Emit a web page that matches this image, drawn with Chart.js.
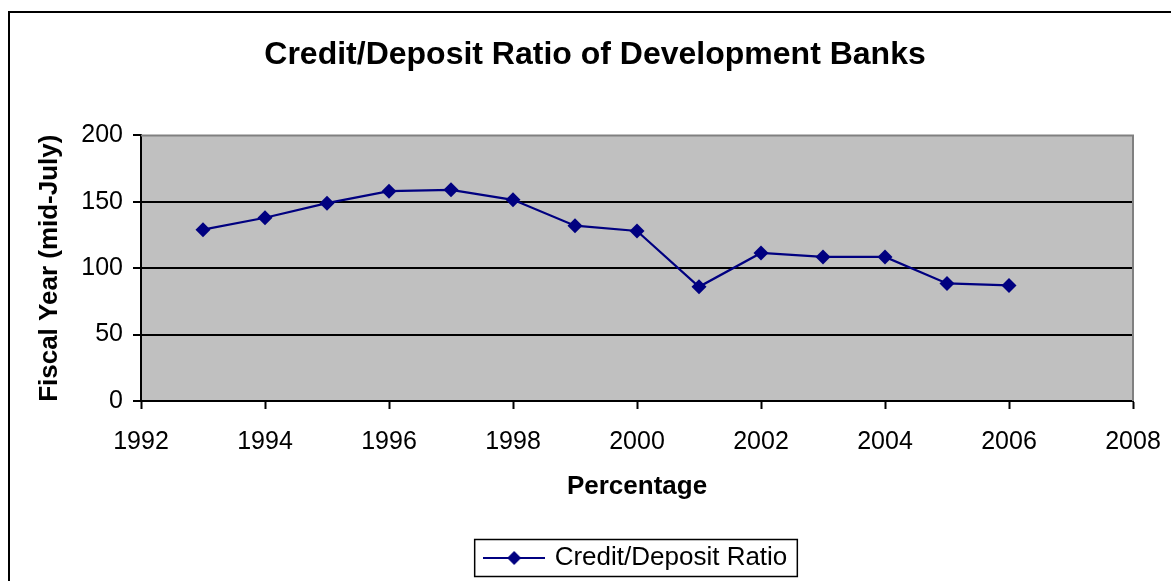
<!DOCTYPE html>
<html lang="en">
<head>
    <meta charset="UTF-8">
    <title>Credit/Deposit Ratio of Development Banks</title>
    <script src="https://cdn.jsdelivr.net/npm/chart.js"></script>
    <style>
        html, body { margin: 0; padding: 0; background: #fff; }
        #chart { display: block; }
    </style>
</head>
<body>
    <canvas id="chart" width="1171" height="581"></canvas>

    <script>
        const years = [1993, 1994, 1995, 1996, 1997, 1998, 1999, 2000, 2001, 2002, 2003, 2004, 2005, 2006];
        const ratio = [129, 138, 149, 158, 159, 151.5, 132, 128, 86, 111.5, 108.5, 108.5, 88.5, 87];
        const xTicks = [1992, 1994, 1996, 1998, 2000, 2002, 2004, 2006, 2008];
        const yTicks = [0, 50, 100, 150, 200];

        const FONT = "'Liberation Sans', Arial, sans-serif";
        const NAVY = '#000080';

        // legend symbol: line with a diamond in the middle
        const legendIcon = document.createElement('canvas');
        legendIcon.width = 62;
        legendIcon.height = 16;
        (function () {
            const c = legendIcon.getContext('2d');
            c.strokeStyle = NAVY;
            c.lineWidth = 2;
            c.beginPath();
            c.moveTo(0, 8);
            c.lineTo(62, 8);
            c.stroke();
            c.fillStyle = NAVY;
            c.beginPath();
            c.moveTo(31 - 7, 8);
            c.lineTo(31, 1);
            c.lineTo(31 + 7, 8);
            c.lineTo(31, 15);
            c.closePath();
            c.fill();
        })();

        const framePlugin = {
            id: 'frame',
            afterLayout(chart) {
                // title centred on the whole frame, legend centred under the plot
                const t = chart.titleBlock;
                t.left = 8; t.right = 1182; t.width = t.right - t.left;
                const lg = chart.legend;
                lg.left = chart.chartArea.left; lg.right = chart.chartArea.right;
                lg.width = lg.right - lg.left;
            },
            beforeDraw(chart) {
                const {ctx, chartArea: a} = chart;
                ctx.save();
                ctx.fillStyle = '#fff';
                ctx.fillRect(0, 0, chart.width, chart.height);
                ctx.fillStyle = '#C0C0C0';
                ctx.fillRect(a.left, a.top, a.right - a.left, a.bottom - a.top);
                ctx.restore();
            },
            beforeDatasetsDraw(chart) {
                const {ctx, chartArea: a} = chart;
                ctx.save();
                ctx.strokeStyle = '#808080';
                ctx.lineWidth = 2;
                ctx.beginPath();
                ctx.moveTo(a.left, a.top);
                ctx.lineTo(a.right, a.top);
                ctx.lineTo(a.right, a.bottom);
                ctx.stroke();
                ctx.restore();
            },
            afterDraw(chart) {
                const ctx = chart.ctx;
                ctx.save();
                ctx.strokeStyle = '#000';
                ctx.lineWidth = 2;
                ctx.strokeRect(9, 12, chart.width + 10, chart.height + 10);
                const hb = chart.legend.legendHitBoxes[0];
                if (hb) {
                    ctx.lineWidth = 1.5;
                    const cy = hb.top + hb.height / 2;
                    ctx.strokeRect(hb.left - 12, cy - 18.5, hb.width + 22, 37);
                }
                ctx.restore();
            }
        };

        new Chart(document.getElementById('chart'), {
            type: 'line',
            data: {
                datasets: [{
                    label: 'Credit/Deposit Ratio',
                    data: years.map((y, i) => ({x: y, y: ratio[i]})),
                    borderColor: NAVY,
                    backgroundColor: NAVY,
                    borderWidth: 2.2,
                    pointStyle: 'rectRot',
                    pointRadius: 7.5,
                    pointBorderWidth: 0,
                    tension: 0
                }]
            },
            options: {
                responsive: false,
                animation: false,
                layout: { padding: { left: 10, right: 38, top: 0, bottom: 0 } },
                plugins: {
                    title: {
                        display: true,
                        text: 'Credit/Deposit Ratio of Development Banks',
                        color: '#000',
                        font: { family: FONT, size: 32, weight: 'bold' },
                        padding: { top: 36, bottom: 61 }
                    },
                    legend: {
                        position: 'bottom',
                        labels: {
                            usePointStyle: true,
                            pointStyle: legendIcon,
                            pointStyleWidth: 55,
                            color: '#000',
                            font: { family: FONT, size: 26 },
                            padding: 8
                        }
                    },
                    tooltip: { enabled: false }
                },
                scales: {
                    x: {
                        type: 'linear',
                        min: 1992,
                        max: 2008,
                        afterBuildTicks: s => { s.ticks = xTicks.map(v => ({value: v})); },
                        afterFit: s => { s.height = 136; s.paddingLeft = 0; s.paddingRight = 0; },
                        ticks: {
                            color: '#000',
                            font: { family: FONT, size: 25 },
                            padding: 18,
                            maxRotation: 0,
                            callback: v => String(v)
                        },
                        grid: {
                            drawOnChartArea: false,
                            tickLength: 8,
                            tickColor: '#000',
                            tickWidth: 2
                        },
                        border: { color: '#000', width: 2 },
                        title: {
                            display: true,
                            text: 'Percentage',
                            color: '#000',
                            font: { family: FONT, size: 26, weight: 'bold' },
                            padding: { top: 0, bottom: 35 }
                        }
                    },
                    y: {
                        min: 0,
                        max: 200,
                        afterBuildTicks: s => { s.ticks = yTicks.map(v => ({value: v})); },
                        afterFit: s => { s.width = 131; },
                        ticks: {
                            color: '#000',
                            font: { family: FONT, size: 25 },
                            padding: 10
                        },
                        grid: {
                            color: ctx => (ctx.tick && ctx.tick.value === 200) ? 'rgba(0,0,0,0)' : '#000',
                            lineWidth: 2,
                            tickLength: 8,
                            tickColor: '#000',
                            tickWidth: 2
                        },
                        border: { color: '#000', width: 2 },
                        title: {
                            display: true,
                            text: 'Fiscal Year (mid-July)',
                            color: '#000',
                            font: { family: FONT, size: 26, weight: 'bold' },
                            padding: { top: 24, bottom: 0 }
                        }
                    }
                }
            },
            plugins: [framePlugin]
        });
    </script>
</body>
</html>
